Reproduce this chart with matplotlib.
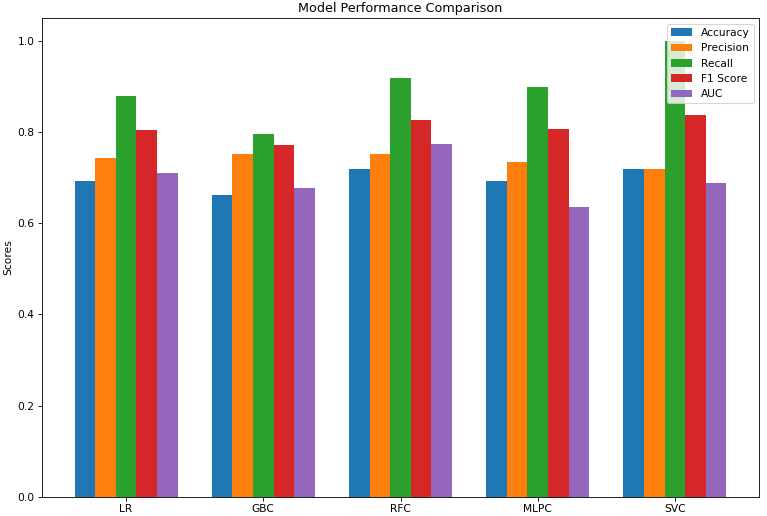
import matplotlib
matplotlib.use('Agg')
import matplotlib.pyplot as plt
import numpy as np

models = ['LR', 'GBC', 'RFC', 'MLPC', 'SVC']
accuracy = [0.692, 0.663, 0.720, 0.692, 0.720]
precision = [0.743, 0.752, 0.752, 0.734, 0.720]
recall = [0.879, 0.797, 0.918, 0.899, 1.000]
f1_score = [0.804, 0.773, 0.826, 0.808, 0.838]
auc = [0.711, 0.678, 0.775, 0.635, 0.689]

metrics = {'Accuracy': accuracy, 'Precision': precision, 'Recall': recall,
           'F1 Score': f1_score, 'AUC': auc}

x = np.arange(len(models))
width = 0.15

DPI = 76.7
fig = plt.figure(figsize=(767 / DPI, 516 / DPI), dpi=DPI)
ax = fig.add_axes([42 / 767, 19.3 / 516, 717 / 767, 478.4 / 516])

for i, (name, vals) in enumerate(metrics.items()):
    ax.bar(x + (i - 2) * width, vals, width, label=name)

ax.set_xticks(x)
ax.set_xticklabels(models)
ax.set_ylabel('Scores')
ax.set_title('Model Performance Comparison')
ax.legend(loc='upper right')

fig.savefig('out.png', dpi=DPI)
plt.close()
